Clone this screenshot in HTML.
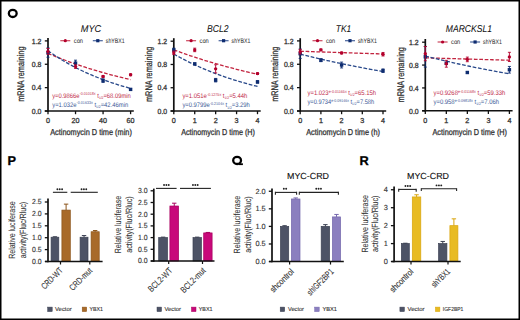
<!DOCTYPE html>
<html><head><meta charset="utf-8"><style>
html,body{margin:0;padding:0;background:#fff;}
body{width:520px;height:320px;overflow:hidden;position:relative;}
svg{position:absolute;left:0;top:0;}
text{font-family:"Liberation Sans", sans-serif;text-rendering:geometricPrecision;}
</style></head><body>
<svg width="520" height="320" viewBox="0 0 520 320">
<ellipse cx="12.75" cy="13.45" rx="3.9" ry="3.55" fill="none" stroke="#000" stroke-width="2.3"/>
<text x="91.00" y="32.00" font-size="9.9" fill="#111" text-anchor="middle" stroke="#111" stroke-width="0.06" font-style="italic" textLength="20.50" lengthAdjust="spacingAndGlyphs" >MYC</text>
<text x="23.90" y="74.20" font-size="9.6" fill="#333333" text-anchor="middle" stroke="#333333" stroke-width="0.28" textLength="55.30" lengthAdjust="spacingAndGlyphs" transform="rotate(-90 23.90 74.20)" >mRNA remaining</text>
<line x1="48.00" y1="37.90" x2="48.00" y2="111.80" stroke="#111" stroke-width="1.7" />
<line x1="44.80" y1="111.00" x2="133.80" y2="111.00" stroke="#111" stroke-width="1.6" />
<line x1="44.80" y1="111.00" x2="48.00" y2="111.00" stroke="#111" stroke-width="1.3" />
<text x="41.40" y="113.70" font-size="7.4" fill="#333333" text-anchor="end" stroke="#333333" stroke-width="0.28" textLength="9.60" lengthAdjust="spacingAndGlyphs" >0.0</text>
<line x1="44.80" y1="87.63" x2="48.00" y2="87.63" stroke="#111" stroke-width="1.3" />
<text x="41.40" y="90.33" font-size="7.4" fill="#333333" text-anchor="end" stroke="#333333" stroke-width="0.28" textLength="9.60" lengthAdjust="spacingAndGlyphs" >0.4</text>
<line x1="44.80" y1="64.27" x2="48.00" y2="64.27" stroke="#111" stroke-width="1.3" />
<text x="41.40" y="66.97" font-size="7.4" fill="#333333" text-anchor="end" stroke="#333333" stroke-width="0.28" textLength="9.60" lengthAdjust="spacingAndGlyphs" >0.8</text>
<line x1="44.80" y1="40.90" x2="48.00" y2="40.90" stroke="#111" stroke-width="1.3" />
<text x="41.40" y="43.60" font-size="7.4" fill="#333333" text-anchor="end" stroke="#333333" stroke-width="0.28" textLength="9.60" lengthAdjust="spacingAndGlyphs" >1.2</text>
<line x1="48.00" y1="111.00" x2="48.00" y2="114.20" stroke="#111" stroke-width="1.3" />
<text x="48.00" y="122.90" font-size="7.2" fill="#333333" text-anchor="middle" stroke="#333333" stroke-width="0.28" >0</text>
<line x1="75.53" y1="111.00" x2="75.53" y2="114.20" stroke="#111" stroke-width="1.3" />
<text x="75.53" y="122.90" font-size="7.2" fill="#333333" text-anchor="middle" stroke="#333333" stroke-width="0.28" >20</text>
<line x1="103.07" y1="111.00" x2="103.07" y2="114.20" stroke="#111" stroke-width="1.3" />
<text x="103.07" y="122.90" font-size="7.2" fill="#333333" text-anchor="middle" stroke="#333333" stroke-width="0.28" >40</text>
<line x1="130.60" y1="111.00" x2="130.60" y2="114.20" stroke="#111" stroke-width="1.3" />
<text x="130.60" y="122.90" font-size="7.2" fill="#333333" text-anchor="middle" stroke="#333333" stroke-width="0.28" >60</text>
<text x="91.00" y="135.40" font-size="8.6" fill="#333333" text-anchor="middle" stroke="#333333" stroke-width="0.28" textLength="81.70" lengthAdjust="spacingAndGlyphs" >Actinomycin D time (min)</text>
<polyline points="48.00,53.37 50.06,54.24 52.13,55.10 54.20,55.95 56.26,56.78 58.33,57.60 60.39,58.41 62.45,59.21 64.52,59.99 66.58,60.77 68.65,61.53 70.72,62.28 72.78,63.02 74.84,63.74 76.91,64.46 78.97,65.16 81.04,65.86 83.10,66.54 85.17,67.22 87.23,67.88 89.30,68.53 91.36,69.18 93.43,69.81 95.50,70.44 97.56,71.05 99.62,71.66 101.69,72.25 103.75,72.84 105.82,73.42 107.88,73.99 109.95,74.55 112.02,75.10 114.08,75.64 116.14,76.18 118.21,76.71 120.28,77.23 122.34,77.74 124.40,78.24 126.47,78.74 128.53,79.23 130.60,79.71" fill="none" stroke="#c2243f" stroke-width="1.3" stroke-dasharray="3.7 1.7"/>
<polyline points="48.00,50.71 50.06,52.17 52.13,53.60 54.20,54.99 56.26,56.34 58.33,57.66 60.39,58.95 62.45,60.21 64.52,61.44 66.58,62.64 68.65,63.81 70.72,64.95 72.78,66.07 74.84,67.15 76.91,68.22 78.97,69.25 81.04,70.26 83.10,71.25 85.17,72.21 87.23,73.15 89.30,74.06 91.36,74.96 93.43,75.83 95.50,76.68 97.56,77.51 99.62,78.32 101.69,79.11 103.75,79.88 105.82,80.64 107.88,81.37 109.95,82.09 112.02,82.79 114.08,83.47 116.14,84.14 118.21,84.79 120.28,85.42 122.34,86.04 124.40,86.64 126.47,87.23 128.53,87.81 130.60,88.37" fill="none" stroke="#28488a" stroke-width="1.3" stroke-dasharray="3.7 1.7"/>
<line x1="48.00" y1="47.91" x2="48.00" y2="57.26" stroke="#0e2c70" stroke-width="0.9" />
<line x1="46.50" y1="47.91" x2="49.50" y2="47.91" stroke="#0e2c70" stroke-width="0.9" />
<line x1="46.50" y1="57.26" x2="49.50" y2="57.26" stroke="#0e2c70" stroke-width="0.9" />
<rect x="46.30" y="50.88" width="3.40" height="3.40" fill="#0e2c70"/>
<line x1="75.53" y1="60.18" x2="75.53" y2="66.02" stroke="#0e2c70" stroke-width="0.9" />
<line x1="74.03" y1="60.18" x2="77.03" y2="60.18" stroke="#0e2c70" stroke-width="0.9" />
<line x1="74.03" y1="66.02" x2="77.03" y2="66.02" stroke="#0e2c70" stroke-width="0.9" />
<rect x="73.83" y="61.40" width="3.40" height="3.40" fill="#0e2c70"/>
<line x1="103.07" y1="78.87" x2="103.07" y2="82.38" stroke="#0e2c70" stroke-width="0.9" />
<line x1="101.57" y1="78.87" x2="104.57" y2="78.87" stroke="#0e2c70" stroke-width="0.9" />
<line x1="101.57" y1="82.38" x2="104.57" y2="82.38" stroke="#0e2c70" stroke-width="0.9" />
<rect x="101.37" y="78.92" width="3.40" height="3.40" fill="#0e2c70"/>
<line x1="130.60" y1="88.51" x2="130.60" y2="90.26" stroke="#0e2c70" stroke-width="0.9" />
<line x1="129.10" y1="88.51" x2="132.10" y2="88.51" stroke="#0e2c70" stroke-width="0.9" />
<line x1="129.10" y1="90.26" x2="132.10" y2="90.26" stroke="#0e2c70" stroke-width="0.9" />
<rect x="128.90" y="87.69" width="3.40" height="3.40" fill="#0e2c70"/>
<line x1="48.00" y1="48.49" x2="48.00" y2="54.34" stroke="#b3002c" stroke-width="0.9" />
<line x1="46.50" y1="48.49" x2="49.50" y2="48.49" stroke="#b3002c" stroke-width="0.9" />
<line x1="46.50" y1="54.34" x2="49.50" y2="54.34" stroke="#b3002c" stroke-width="0.9" />
<circle cx="48.00" cy="51.41" r="1.7" fill="#b3002c"/>
<line x1="75.53" y1="64.85" x2="75.53" y2="68.36" stroke="#b3002c" stroke-width="0.9" />
<line x1="74.03" y1="64.85" x2="77.03" y2="64.85" stroke="#b3002c" stroke-width="0.9" />
<line x1="74.03" y1="68.36" x2="77.03" y2="68.36" stroke="#b3002c" stroke-width="0.9" />
<circle cx="75.53" cy="66.60" r="1.7" fill="#b3002c"/>
<line x1="103.07" y1="75.66" x2="103.07" y2="77.41" stroke="#b3002c" stroke-width="0.9" />
<line x1="101.57" y1="75.66" x2="104.57" y2="75.66" stroke="#b3002c" stroke-width="0.9" />
<line x1="101.57" y1="77.41" x2="104.57" y2="77.41" stroke="#b3002c" stroke-width="0.9" />
<circle cx="103.07" cy="76.53" r="1.7" fill="#b3002c"/>
<line x1="130.60" y1="73.91" x2="130.60" y2="75.66" stroke="#b3002c" stroke-width="0.9" />
<line x1="129.10" y1="73.91" x2="132.10" y2="73.91" stroke="#b3002c" stroke-width="0.9" />
<line x1="129.10" y1="75.66" x2="132.10" y2="75.66" stroke="#b3002c" stroke-width="0.9" />
<circle cx="130.60" cy="74.78" r="1.7" fill="#b3002c"/>
<line x1="60.30" y1="40.70" x2="70.30" y2="40.70" stroke="#c2243f" stroke-width="1.2" stroke-opacity="0.85"/>
<circle cx="65.30" cy="40.70" r="1.6" fill="#b3002c"/>
<text x="73.80" y="42.90" font-size="6.6" fill="#333" text-anchor="start" stroke="#333" stroke-width="0.05" textLength="9.20" lengthAdjust="spacingAndGlyphs" >con</text>
<line x1="92.80" y1="40.70" x2="102.80" y2="40.70" stroke="#28488a" stroke-width="1.2" stroke-opacity="0.85"/>
<rect x="96.20" y="39.10" width="3.20" height="3.20" fill="#0e2c70"/>
<text x="105.80" y="42.90" font-size="6.6" fill="#333" text-anchor="start" stroke="#333" stroke-width="0.05" textLength="18.80" lengthAdjust="spacingAndGlyphs" >shYBX1</text>
<text x="52.20" y="97.60" font-size="6.6" fill="#c02848" text-anchor="start" textLength="78.60" lengthAdjust="spacingAndGlyphs" >y=0.9866e<tspan font-size="4.1" dy="-2.4">-0.01018x</tspan><tspan dy="2.4"> t</tspan><tspan font-size="3.7" dy="1.2">1/2</tspan><tspan dy="-1.2">=68.09min</tspan></text>
<text x="52.20" y="106.80" font-size="6.6" fill="#3a5896" text-anchor="start" textLength="76.10" lengthAdjust="spacingAndGlyphs" >y=1.032e<tspan font-size="4.1" dy="-2.4">-0.01633x</tspan><tspan dy="2.4"> t</tspan><tspan font-size="3.7" dy="1.2">1/2</tspan><tspan dy="-1.2">=42.46min</tspan></text>
<text x="217.80" y="32.00" font-size="9.9" fill="#111" text-anchor="middle" stroke="#111" stroke-width="0.06" font-style="italic" textLength="21.60" lengthAdjust="spacingAndGlyphs" >BCL2</text>
<text x="151.90" y="74.35" font-size="9.6" fill="#333333" text-anchor="middle" stroke="#333333" stroke-width="0.28" textLength="55.30" lengthAdjust="spacingAndGlyphs" transform="rotate(-90 151.90 74.35)" >mRNA remaining</text>
<line x1="173.80" y1="38.20" x2="173.80" y2="111.80" stroke="#111" stroke-width="1.7" />
<line x1="170.60" y1="111.00" x2="260.70" y2="111.00" stroke="#111" stroke-width="1.6" />
<line x1="170.60" y1="111.00" x2="173.80" y2="111.00" stroke="#111" stroke-width="1.3" />
<text x="167.20" y="113.70" font-size="7.4" fill="#333333" text-anchor="end" stroke="#333333" stroke-width="0.28" textLength="9.60" lengthAdjust="spacingAndGlyphs" >0.0</text>
<line x1="170.60" y1="87.73" x2="173.80" y2="87.73" stroke="#111" stroke-width="1.3" />
<text x="167.20" y="90.43" font-size="7.4" fill="#333333" text-anchor="end" stroke="#333333" stroke-width="0.28" textLength="9.60" lengthAdjust="spacingAndGlyphs" >0.4</text>
<line x1="170.60" y1="64.47" x2="173.80" y2="64.47" stroke="#111" stroke-width="1.3" />
<text x="167.20" y="67.17" font-size="7.4" fill="#333333" text-anchor="end" stroke="#333333" stroke-width="0.28" textLength="9.60" lengthAdjust="spacingAndGlyphs" >0.8</text>
<line x1="170.60" y1="41.20" x2="173.80" y2="41.20" stroke="#111" stroke-width="1.3" />
<text x="167.20" y="43.90" font-size="7.4" fill="#333333" text-anchor="end" stroke="#333333" stroke-width="0.28" textLength="9.60" lengthAdjust="spacingAndGlyphs" >1.2</text>
<line x1="173.80" y1="111.00" x2="173.80" y2="114.20" stroke="#111" stroke-width="1.3" />
<text x="173.80" y="122.90" font-size="7.2" fill="#333333" text-anchor="middle" stroke="#333333" stroke-width="0.28" >0</text>
<line x1="194.73" y1="111.00" x2="194.73" y2="114.20" stroke="#111" stroke-width="1.3" />
<text x="194.73" y="122.90" font-size="7.2" fill="#333333" text-anchor="middle" stroke="#333333" stroke-width="0.28" >1</text>
<line x1="215.65" y1="111.00" x2="215.65" y2="114.20" stroke="#111" stroke-width="1.3" />
<text x="215.65" y="122.90" font-size="7.2" fill="#333333" text-anchor="middle" stroke="#333333" stroke-width="0.28" >2</text>
<line x1="236.57" y1="111.00" x2="236.57" y2="114.20" stroke="#111" stroke-width="1.3" />
<text x="236.57" y="122.90" font-size="7.2" fill="#333333" text-anchor="middle" stroke="#333333" stroke-width="0.28" >3</text>
<line x1="257.50" y1="111.00" x2="257.50" y2="114.20" stroke="#111" stroke-width="1.3" />
<text x="257.50" y="122.90" font-size="7.2" fill="#333333" text-anchor="middle" stroke="#333333" stroke-width="0.28" >4</text>
<text x="218.10" y="135.40" font-size="8.6" fill="#333333" text-anchor="middle" stroke="#333333" stroke-width="0.28" textLength="73.80" lengthAdjust="spacingAndGlyphs" >Actinomycin D time (H)</text>
<polyline points="173.80,49.87 175.89,50.64 177.99,51.41 180.08,52.16 182.17,52.91 184.26,53.64 186.36,54.37 188.45,55.09 190.54,55.79 192.63,56.49 194.73,57.18 196.82,57.87 198.91,58.54 201.00,59.20 203.09,59.86 205.19,60.51 207.28,61.15 209.37,61.78 211.47,62.40 213.56,63.02 215.65,63.63 217.74,64.23 219.84,64.82 221.93,65.40 224.02,65.98 226.11,66.55 228.21,67.12 230.30,67.67 232.39,68.22 234.48,68.76 236.57,69.30 238.67,69.83 240.76,70.35 242.85,70.86 244.94,71.37 247.04,71.87 249.13,72.37 251.22,72.86 253.31,73.34 255.41,73.82 257.50,74.29" fill="none" stroke="#c2243f" stroke-width="1.3" stroke-dasharray="3.7 1.7"/>
<polyline points="173.80,54.00 175.89,55.19 177.99,56.35 180.08,57.49 182.17,58.60 184.26,59.69 186.36,60.76 188.45,61.81 190.54,62.83 192.63,63.84 194.73,64.82 196.82,65.78 198.91,66.72 201.00,67.64 203.09,68.54 205.19,69.43 207.28,70.29 209.37,71.14 211.47,71.97 213.56,72.78 215.65,73.58 217.74,74.36 219.84,75.12 221.93,75.87 224.02,76.60 226.11,77.32 228.21,78.02 230.30,78.70 232.39,79.38 234.48,80.04 236.57,80.68 238.67,81.31 240.76,81.93 242.85,82.53 244.94,83.13 247.04,83.71 249.13,84.28 251.22,84.83 253.31,85.38 255.41,85.91 257.50,86.43" fill="none" stroke="#28488a" stroke-width="1.3" stroke-dasharray="3.7 1.7"/>
<line x1="173.80" y1="48.18" x2="173.80" y2="51.67" stroke="#0e2c70" stroke-width="0.9" />
<line x1="172.30" y1="48.18" x2="175.30" y2="48.18" stroke="#0e2c70" stroke-width="0.9" />
<line x1="172.30" y1="51.67" x2="175.30" y2="51.67" stroke="#0e2c70" stroke-width="0.9" />
<rect x="172.10" y="48.22" width="3.40" height="3.40" fill="#0e2c70"/>
<line x1="194.73" y1="63.01" x2="194.73" y2="64.76" stroke="#0e2c70" stroke-width="0.9" />
<line x1="193.23" y1="63.01" x2="196.23" y2="63.01" stroke="#0e2c70" stroke-width="0.9" />
<line x1="193.23" y1="64.76" x2="196.23" y2="64.76" stroke="#0e2c70" stroke-width="0.9" />
<rect x="193.03" y="62.18" width="3.40" height="3.40" fill="#0e2c70"/>
<line x1="215.65" y1="78.43" x2="215.65" y2="81.92" stroke="#0e2c70" stroke-width="0.9" />
<line x1="214.15" y1="78.43" x2="217.15" y2="78.43" stroke="#0e2c70" stroke-width="0.9" />
<line x1="214.15" y1="81.92" x2="217.15" y2="81.92" stroke="#0e2c70" stroke-width="0.9" />
<rect x="213.95" y="78.47" width="3.40" height="3.40" fill="#0e2c70"/>
<line x1="257.50" y1="80.75" x2="257.50" y2="83.08" stroke="#0e2c70" stroke-width="0.9" />
<line x1="256.00" y1="80.75" x2="259.00" y2="80.75" stroke="#0e2c70" stroke-width="0.9" />
<line x1="256.00" y1="83.08" x2="259.00" y2="83.08" stroke="#0e2c70" stroke-width="0.9" />
<rect x="255.80" y="80.22" width="3.40" height="3.40" fill="#0e2c70"/>
<line x1="173.80" y1="51.09" x2="173.80" y2="54.58" stroke="#b3002c" stroke-width="0.9" />
<line x1="172.30" y1="51.09" x2="175.30" y2="51.09" stroke="#b3002c" stroke-width="0.9" />
<line x1="172.30" y1="54.58" x2="175.30" y2="54.58" stroke="#b3002c" stroke-width="0.9" />
<circle cx="173.80" cy="52.83" r="1.7" fill="#b3002c"/>
<line x1="194.73" y1="48.18" x2="194.73" y2="51.67" stroke="#b3002c" stroke-width="0.9" />
<line x1="193.23" y1="48.18" x2="196.23" y2="48.18" stroke="#b3002c" stroke-width="0.9" />
<line x1="193.23" y1="51.67" x2="196.23" y2="51.67" stroke="#b3002c" stroke-width="0.9" />
<circle cx="194.73" cy="49.92" r="1.7" fill="#b3002c"/>
<line x1="215.65" y1="64.76" x2="215.65" y2="72.90" stroke="#b3002c" stroke-width="0.9" />
<line x1="214.15" y1="64.76" x2="217.15" y2="64.76" stroke="#b3002c" stroke-width="0.9" />
<line x1="214.15" y1="72.90" x2="217.15" y2="72.90" stroke="#b3002c" stroke-width="0.9" />
<circle cx="215.65" cy="68.83" r="1.7" fill="#b3002c"/>
<line x1="257.50" y1="72.73" x2="257.50" y2="74.47" stroke="#b3002c" stroke-width="0.9" />
<line x1="256.00" y1="72.73" x2="259.00" y2="72.73" stroke="#b3002c" stroke-width="0.9" />
<line x1="256.00" y1="74.47" x2="259.00" y2="74.47" stroke="#b3002c" stroke-width="0.9" />
<circle cx="257.50" cy="73.60" r="1.7" fill="#b3002c"/>
<line x1="186.10" y1="40.70" x2="196.10" y2="40.70" stroke="#c2243f" stroke-width="1.2" stroke-opacity="0.85"/>
<circle cx="191.10" cy="40.70" r="1.6" fill="#b3002c"/>
<text x="199.60" y="42.90" font-size="6.6" fill="#333" text-anchor="start" stroke="#333" stroke-width="0.05" textLength="9.20" lengthAdjust="spacingAndGlyphs" >con</text>
<line x1="218.60" y1="40.70" x2="228.60" y2="40.70" stroke="#28488a" stroke-width="1.2" stroke-opacity="0.85"/>
<rect x="222.00" y="39.10" width="3.20" height="3.20" fill="#0e2c70"/>
<text x="231.60" y="42.90" font-size="6.6" fill="#333" text-anchor="start" stroke="#333" stroke-width="0.05" textLength="18.80" lengthAdjust="spacingAndGlyphs" >shYBX1</text>
<text x="182.40" y="97.90" font-size="6.6" fill="#c02848" text-anchor="start" textLength="65.00" lengthAdjust="spacingAndGlyphs" >y=1.051e<tspan font-size="4.1" dy="-2.4">-0.1275x</tspan><tspan dy="2.4"> t</tspan><tspan font-size="3.7" dy="1.2">1/2</tspan><tspan dy="-1.2">=5.44h</tspan></text>
<text x="182.40" y="107.30" font-size="6.6" fill="#3a5896" text-anchor="start" textLength="67.40" lengthAdjust="spacingAndGlyphs" >y=0.9799e<tspan font-size="4.1" dy="-2.4">-0.2104x</tspan><tspan dy="2.4"> t</tspan><tspan font-size="3.7" dy="1.2">1/2</tspan><tspan dy="-1.2">=3.29h</tspan></text>
<text x="343.50" y="32.00" font-size="9.9" fill="#111" text-anchor="middle" stroke="#111" stroke-width="0.06" font-style="italic" textLength="15.40" lengthAdjust="spacingAndGlyphs" >TK1</text>
<text x="278.50" y="74.20" font-size="9.6" fill="#333333" text-anchor="middle" stroke="#333333" stroke-width="0.28" textLength="55.30" lengthAdjust="spacingAndGlyphs" transform="rotate(-90 278.50 74.20)" >mRNA remaining</text>
<line x1="300.20" y1="38.20" x2="300.20" y2="111.80" stroke="#111" stroke-width="1.7" />
<line x1="297.00" y1="111.00" x2="386.20" y2="111.00" stroke="#111" stroke-width="1.6" />
<line x1="297.00" y1="111.00" x2="300.20" y2="111.00" stroke="#111" stroke-width="1.3" />
<text x="293.60" y="113.70" font-size="7.4" fill="#333333" text-anchor="end" stroke="#333333" stroke-width="0.28" textLength="9.60" lengthAdjust="spacingAndGlyphs" >0.0</text>
<line x1="297.00" y1="87.63" x2="300.20" y2="87.63" stroke="#111" stroke-width="1.3" />
<text x="293.60" y="90.33" font-size="7.4" fill="#333333" text-anchor="end" stroke="#333333" stroke-width="0.28" textLength="9.60" lengthAdjust="spacingAndGlyphs" >0.4</text>
<line x1="297.00" y1="64.27" x2="300.20" y2="64.27" stroke="#111" stroke-width="1.3" />
<text x="293.60" y="66.97" font-size="7.4" fill="#333333" text-anchor="end" stroke="#333333" stroke-width="0.28" textLength="9.60" lengthAdjust="spacingAndGlyphs" >0.8</text>
<line x1="297.00" y1="40.90" x2="300.20" y2="40.90" stroke="#111" stroke-width="1.3" />
<text x="293.60" y="43.60" font-size="7.4" fill="#333333" text-anchor="end" stroke="#333333" stroke-width="0.28" textLength="9.60" lengthAdjust="spacingAndGlyphs" >1.2</text>
<line x1="300.20" y1="111.00" x2="300.20" y2="114.20" stroke="#111" stroke-width="1.3" />
<text x="300.20" y="122.90" font-size="7.2" fill="#333333" text-anchor="middle" stroke="#333333" stroke-width="0.28" >0</text>
<line x1="320.90" y1="111.00" x2="320.90" y2="114.20" stroke="#111" stroke-width="1.3" />
<text x="320.90" y="122.90" font-size="7.2" fill="#333333" text-anchor="middle" stroke="#333333" stroke-width="0.28" >1</text>
<line x1="341.60" y1="111.00" x2="341.60" y2="114.20" stroke="#111" stroke-width="1.3" />
<text x="341.60" y="122.90" font-size="7.2" fill="#333333" text-anchor="middle" stroke="#333333" stroke-width="0.28" >2</text>
<line x1="362.30" y1="111.00" x2="362.30" y2="114.20" stroke="#111" stroke-width="1.3" />
<text x="362.30" y="122.90" font-size="7.2" fill="#333333" text-anchor="middle" stroke="#333333" stroke-width="0.28" >3</text>
<line x1="383.00" y1="111.00" x2="383.00" y2="114.20" stroke="#111" stroke-width="1.3" />
<text x="383.00" y="122.90" font-size="7.2" fill="#333333" text-anchor="middle" stroke="#333333" stroke-width="0.28" >4</text>
<text x="343.10" y="135.40" font-size="8.6" fill="#333333" text-anchor="middle" stroke="#333333" stroke-width="0.28" textLength="73.80" lengthAdjust="spacingAndGlyphs" >Actinomycin D time (h)</text>
<polyline points="300.20,51.24 302.27,51.31 304.34,51.38 306.41,51.45 308.48,51.52 310.55,51.59 312.62,51.66 314.69,51.73 316.76,51.79 318.83,51.86 320.90,51.93 322.97,52.00 325.04,52.07 327.11,52.14 329.18,52.21 331.25,52.27 333.32,52.34 335.39,52.41 337.46,52.48 339.53,52.55 341.60,52.62 343.67,52.68 345.74,52.75 347.81,52.82 349.88,52.89 351.95,52.96 354.02,53.02 356.09,53.09 358.16,53.16 360.23,53.23 362.30,53.29 364.37,53.36 366.44,53.43 368.51,53.49 370.58,53.56 372.65,53.63 374.72,53.69 376.79,53.76 378.86,53.83 380.93,53.89 383.00,53.96" fill="none" stroke="#c2243f" stroke-width="1.3" stroke-dasharray="3.7 1.7"/>
<polyline points="300.20,54.14 302.27,54.65 304.34,55.17 306.41,55.68 308.48,56.18 310.55,56.68 312.62,57.17 314.69,57.66 316.76,58.15 318.83,58.63 320.90,59.11 322.97,59.58 325.04,60.05 327.11,60.51 329.18,60.97 331.25,61.43 333.32,61.88 335.39,62.33 337.46,62.77 339.53,63.21 341.60,63.64 343.67,64.07 345.74,64.50 347.81,64.92 349.88,65.34 351.95,65.76 354.02,66.17 356.09,66.58 358.16,66.98 360.23,67.38 362.30,67.78 364.37,68.18 366.44,68.57 368.51,68.95 370.58,69.33 372.65,69.71 374.72,70.09 376.79,70.46 378.86,70.83 380.93,71.20 383.00,71.56" fill="none" stroke="#28488a" stroke-width="1.3" stroke-dasharray="3.7 1.7"/>
<line x1="300.20" y1="49.08" x2="300.20" y2="58.43" stroke="#0e2c70" stroke-width="0.9" />
<line x1="298.70" y1="49.08" x2="301.70" y2="49.08" stroke="#0e2c70" stroke-width="0.9" />
<line x1="298.70" y1="58.43" x2="301.70" y2="58.43" stroke="#0e2c70" stroke-width="0.9" />
<rect x="298.50" y="52.05" width="3.40" height="3.40" fill="#0e2c70"/>
<line x1="320.90" y1="58.72" x2="320.90" y2="61.64" stroke="#0e2c70" stroke-width="0.9" />
<line x1="319.40" y1="58.72" x2="322.40" y2="58.72" stroke="#0e2c70" stroke-width="0.9" />
<line x1="319.40" y1="61.64" x2="322.40" y2="61.64" stroke="#0e2c70" stroke-width="0.9" />
<rect x="319.20" y="58.48" width="3.40" height="3.40" fill="#0e2c70"/>
<line x1="341.60" y1="62.11" x2="341.60" y2="67.95" stroke="#0e2c70" stroke-width="0.9" />
<line x1="340.10" y1="62.11" x2="343.10" y2="62.11" stroke="#0e2c70" stroke-width="0.9" />
<line x1="340.10" y1="67.95" x2="343.10" y2="67.95" stroke="#0e2c70" stroke-width="0.9" />
<rect x="339.90" y="63.33" width="3.40" height="3.40" fill="#0e2c70"/>
<line x1="383.00" y1="68.94" x2="383.00" y2="72.45" stroke="#0e2c70" stroke-width="0.9" />
<line x1="381.50" y1="68.94" x2="384.50" y2="68.94" stroke="#0e2c70" stroke-width="0.9" />
<line x1="381.50" y1="72.45" x2="384.50" y2="72.45" stroke="#0e2c70" stroke-width="0.9" />
<rect x="381.30" y="68.99" width="3.40" height="3.40" fill="#0e2c70"/>
<line x1="300.20" y1="49.37" x2="300.20" y2="54.04" stroke="#b3002c" stroke-width="0.9" />
<line x1="298.70" y1="49.37" x2="301.70" y2="49.37" stroke="#b3002c" stroke-width="0.9" />
<line x1="298.70" y1="54.04" x2="301.70" y2="54.04" stroke="#b3002c" stroke-width="0.9" />
<circle cx="300.20" cy="51.71" r="1.7" fill="#b3002c"/>
<line x1="320.90" y1="48.96" x2="320.90" y2="50.71" stroke="#b3002c" stroke-width="0.9" />
<line x1="319.40" y1="48.96" x2="322.40" y2="48.96" stroke="#b3002c" stroke-width="0.9" />
<line x1="319.40" y1="50.71" x2="322.40" y2="50.71" stroke="#b3002c" stroke-width="0.9" />
<circle cx="320.90" cy="49.84" r="1.7" fill="#b3002c"/>
<line x1="341.60" y1="52.06" x2="341.60" y2="53.81" stroke="#b3002c" stroke-width="0.9" />
<line x1="340.10" y1="52.06" x2="343.10" y2="52.06" stroke="#b3002c" stroke-width="0.9" />
<line x1="340.10" y1="53.81" x2="343.10" y2="53.81" stroke="#b3002c" stroke-width="0.9" />
<circle cx="341.60" cy="52.93" r="1.7" fill="#b3002c"/>
<line x1="383.00" y1="52.47" x2="383.00" y2="55.97" stroke="#b3002c" stroke-width="0.9" />
<line x1="381.50" y1="52.47" x2="384.50" y2="52.47" stroke="#b3002c" stroke-width="0.9" />
<line x1="381.50" y1="55.97" x2="384.50" y2="55.97" stroke="#b3002c" stroke-width="0.9" />
<circle cx="383.00" cy="54.22" r="1.7" fill="#b3002c"/>
<line x1="312.50" y1="40.70" x2="322.50" y2="40.70" stroke="#c2243f" stroke-width="1.2" stroke-opacity="0.85"/>
<circle cx="317.50" cy="40.70" r="1.6" fill="#b3002c"/>
<text x="326.00" y="42.90" font-size="6.6" fill="#333" text-anchor="start" stroke="#333" stroke-width="0.05" textLength="9.20" lengthAdjust="spacingAndGlyphs" >con</text>
<line x1="345.00" y1="40.70" x2="355.00" y2="40.70" stroke="#28488a" stroke-width="1.2" stroke-opacity="0.85"/>
<rect x="348.40" y="39.10" width="3.20" height="3.20" fill="#0e2c70"/>
<text x="358.00" y="42.90" font-size="6.6" fill="#333" text-anchor="start" stroke="#333" stroke-width="0.05" textLength="18.80" lengthAdjust="spacingAndGlyphs" >shYBX1</text>
<text x="307.50" y="95.20" font-size="6.6" fill="#c02848" text-anchor="start" textLength="68.60" lengthAdjust="spacingAndGlyphs" >y=1.023<tspan font-size="4.1" dy="-2.4">e-0.01165x</tspan><tspan dy="2.4"> t</tspan><tspan font-size="3.7" dy="1.2">1/2</tspan><tspan dy="-1.2">=65.15h</tspan></text>
<text x="307.50" y="103.90" font-size="6.6" fill="#3a5896" text-anchor="start" textLength="66.70" lengthAdjust="spacingAndGlyphs" >y=0.9734<tspan font-size="4.1" dy="-2.4">e-0.09146x</tspan><tspan dy="2.4"> t</tspan><tspan font-size="3.7" dy="1.2">1/2</tspan><tspan dy="-1.2">=7.58h</tspan></text>
<text x="468.90" y="32.00" font-size="9.9" fill="#111" text-anchor="middle" stroke="#111" stroke-width="0.06" font-style="italic" textLength="46.10" lengthAdjust="spacingAndGlyphs" >MARCKSL1</text>
<text x="403.90" y="74.75" font-size="9.6" fill="#333333" text-anchor="middle" stroke="#333333" stroke-width="0.28" textLength="55.30" lengthAdjust="spacingAndGlyphs" transform="rotate(-90 403.90 74.75)" >mRNA remaining</text>
<line x1="425.30" y1="39.00" x2="425.30" y2="111.60" stroke="#111" stroke-width="1.7" />
<line x1="422.10" y1="110.80" x2="512.60" y2="110.80" stroke="#111" stroke-width="1.6" />
<line x1="422.10" y1="110.80" x2="425.30" y2="110.80" stroke="#111" stroke-width="1.3" />
<text x="418.70" y="113.50" font-size="7.4" fill="#333333" text-anchor="end" stroke="#333333" stroke-width="0.28" textLength="9.60" lengthAdjust="spacingAndGlyphs" >0.0</text>
<line x1="422.10" y1="87.93" x2="425.30" y2="87.93" stroke="#111" stroke-width="1.3" />
<text x="418.70" y="90.63" font-size="7.4" fill="#333333" text-anchor="end" stroke="#333333" stroke-width="0.28" textLength="9.60" lengthAdjust="spacingAndGlyphs" >0.4</text>
<line x1="422.10" y1="65.07" x2="425.30" y2="65.07" stroke="#111" stroke-width="1.3" />
<text x="418.70" y="67.77" font-size="7.4" fill="#333333" text-anchor="end" stroke="#333333" stroke-width="0.28" textLength="9.60" lengthAdjust="spacingAndGlyphs" >0.8</text>
<line x1="422.10" y1="42.20" x2="425.30" y2="42.20" stroke="#111" stroke-width="1.3" />
<text x="418.70" y="44.90" font-size="7.4" fill="#333333" text-anchor="end" stroke="#333333" stroke-width="0.28" textLength="9.60" lengthAdjust="spacingAndGlyphs" >1.2</text>
<line x1="425.30" y1="110.80" x2="425.30" y2="114.00" stroke="#111" stroke-width="1.3" />
<text x="425.30" y="122.90" font-size="7.2" fill="#333333" text-anchor="middle" stroke="#333333" stroke-width="0.28" >0</text>
<line x1="446.32" y1="110.80" x2="446.32" y2="114.00" stroke="#111" stroke-width="1.3" />
<text x="446.32" y="122.90" font-size="7.2" fill="#333333" text-anchor="middle" stroke="#333333" stroke-width="0.28" >1</text>
<line x1="467.35" y1="110.80" x2="467.35" y2="114.00" stroke="#111" stroke-width="1.3" />
<text x="467.35" y="122.90" font-size="7.2" fill="#333333" text-anchor="middle" stroke="#333333" stroke-width="0.28" >2</text>
<line x1="488.38" y1="110.80" x2="488.38" y2="114.00" stroke="#111" stroke-width="1.3" />
<text x="488.38" y="122.90" font-size="7.2" fill="#333333" text-anchor="middle" stroke="#333333" stroke-width="0.28" >3</text>
<line x1="509.40" y1="110.80" x2="509.40" y2="114.00" stroke="#111" stroke-width="1.3" />
<text x="509.40" y="122.90" font-size="7.2" fill="#333333" text-anchor="middle" stroke="#333333" stroke-width="0.28" >4</text>
<text x="469.75" y="135.40" font-size="8.6" fill="#333333" text-anchor="middle" stroke="#333333" stroke-width="0.28" textLength="74.50" lengthAdjust="spacingAndGlyphs" >Actinomycin D time (H)</text>
<polyline points="425.30,57.82 427.40,57.88 429.50,57.94 431.61,58.00 433.71,58.06 435.81,58.13 437.92,58.19 440.02,58.25 442.12,58.31 444.22,58.37 446.32,58.43 448.43,58.49 450.53,58.56 452.63,58.62 454.74,58.68 456.84,58.74 458.94,58.80 461.04,58.86 463.14,58.92 465.25,58.98 467.35,59.04 469.45,59.10 471.56,59.16 473.66,59.22 475.76,59.28 477.86,59.34 479.96,59.40 482.07,59.46 484.17,59.52 486.27,59.58 488.38,59.64 490.48,59.70 492.58,59.76 494.68,59.82 496.78,59.88 498.89,59.94 500.99,60.00 503.09,60.06 505.19,60.12 507.30,60.18 509.40,60.24" fill="none" stroke="#c2243f" stroke-width="1.3" stroke-dasharray="3.7 1.7"/>
<polyline points="425.30,56.03 427.40,56.57 429.50,57.10 431.61,57.62 433.71,58.14 435.81,58.66 437.92,59.17 440.02,59.67 442.12,60.17 444.22,60.67 446.32,61.16 448.43,61.64 450.53,62.12 452.63,62.60 454.74,63.07 456.84,63.53 458.94,64.00 461.04,64.45 463.14,64.91 465.25,65.35 467.35,65.80 469.45,66.24 471.56,66.67 473.66,67.10 475.76,67.53 477.86,67.95 479.96,68.37 482.07,68.79 484.17,69.20 486.27,69.60 488.38,70.01 490.48,70.41 492.58,70.80 494.68,71.19 496.78,71.58 498.89,71.96 500.99,72.34 503.09,72.72 505.19,73.09 507.30,73.46 509.40,73.82" fill="none" stroke="#28488a" stroke-width="1.3" stroke-dasharray="3.7 1.7"/>
<line x1="425.30" y1="46.49" x2="425.30" y2="67.07" stroke="#0e2c70" stroke-width="0.9" />
<line x1="423.80" y1="46.49" x2="426.80" y2="46.49" stroke="#0e2c70" stroke-width="0.9" />
<line x1="423.80" y1="67.07" x2="426.80" y2="67.07" stroke="#0e2c70" stroke-width="0.9" />
<rect x="423.60" y="55.08" width="3.40" height="3.40" fill="#0e2c70"/>
<line x1="446.32" y1="62.21" x2="446.32" y2="64.50" stroke="#0e2c70" stroke-width="0.9" />
<line x1="444.82" y1="62.21" x2="447.82" y2="62.21" stroke="#0e2c70" stroke-width="0.9" />
<line x1="444.82" y1="64.50" x2="447.82" y2="64.50" stroke="#0e2c70" stroke-width="0.9" />
<rect x="444.62" y="61.65" width="3.40" height="3.40" fill="#0e2c70"/>
<line x1="467.35" y1="71.64" x2="467.35" y2="73.36" stroke="#0e2c70" stroke-width="0.9" />
<line x1="465.85" y1="71.64" x2="468.85" y2="71.64" stroke="#0e2c70" stroke-width="0.9" />
<line x1="465.85" y1="73.36" x2="468.85" y2="73.36" stroke="#0e2c70" stroke-width="0.9" />
<rect x="465.65" y="70.80" width="3.40" height="3.40" fill="#0e2c70"/>
<line x1="509.40" y1="66.44" x2="509.40" y2="73.07" stroke="#0e2c70" stroke-width="0.9" />
<line x1="507.90" y1="66.44" x2="510.90" y2="66.44" stroke="#0e2c70" stroke-width="0.9" />
<line x1="507.90" y1="73.07" x2="510.90" y2="73.07" stroke="#0e2c70" stroke-width="0.9" />
<rect x="507.70" y="68.05" width="3.40" height="3.40" fill="#0e2c70"/>
<line x1="425.30" y1="46.49" x2="425.30" y2="60.78" stroke="#b3002c" stroke-width="0.9" />
<line x1="423.80" y1="46.49" x2="426.80" y2="46.49" stroke="#b3002c" stroke-width="0.9" />
<line x1="423.80" y1="60.78" x2="426.80" y2="60.78" stroke="#b3002c" stroke-width="0.9" />
<circle cx="425.30" cy="53.63" r="1.7" fill="#b3002c"/>
<line x1="446.32" y1="60.32" x2="446.32" y2="67.18" stroke="#b3002c" stroke-width="0.9" />
<line x1="444.82" y1="60.32" x2="447.82" y2="60.32" stroke="#b3002c" stroke-width="0.9" />
<line x1="444.82" y1="67.18" x2="447.82" y2="67.18" stroke="#b3002c" stroke-width="0.9" />
<circle cx="446.32" cy="63.75" r="1.7" fill="#b3002c"/>
<line x1="467.35" y1="57.12" x2="467.35" y2="61.69" stroke="#b3002c" stroke-width="0.9" />
<line x1="465.85" y1="57.12" x2="468.85" y2="57.12" stroke="#b3002c" stroke-width="0.9" />
<line x1="465.85" y1="61.69" x2="468.85" y2="61.69" stroke="#b3002c" stroke-width="0.9" />
<circle cx="467.35" cy="59.41" r="1.7" fill="#b3002c"/>
<line x1="509.40" y1="52.32" x2="509.40" y2="61.47" stroke="#b3002c" stroke-width="0.9" />
<line x1="507.90" y1="52.32" x2="510.90" y2="52.32" stroke="#b3002c" stroke-width="0.9" />
<line x1="507.90" y1="61.47" x2="510.90" y2="61.47" stroke="#b3002c" stroke-width="0.9" />
<circle cx="509.40" cy="56.89" r="1.7" fill="#b3002c"/>
<line x1="437.60" y1="42.00" x2="447.60" y2="42.00" stroke="#c2243f" stroke-width="1.2" stroke-opacity="0.85"/>
<circle cx="442.60" cy="42.00" r="1.6" fill="#b3002c"/>
<text x="451.10" y="44.20" font-size="6.6" fill="#333" text-anchor="start" stroke="#333" stroke-width="0.05" textLength="9.20" lengthAdjust="spacingAndGlyphs" >con</text>
<line x1="470.10" y1="42.00" x2="480.10" y2="42.00" stroke="#28488a" stroke-width="1.2" stroke-opacity="0.85"/>
<rect x="473.50" y="40.40" width="3.20" height="3.20" fill="#0e2c70"/>
<text x="483.10" y="44.20" font-size="6.6" fill="#333" text-anchor="start" stroke="#333" stroke-width="0.05" textLength="18.80" lengthAdjust="spacingAndGlyphs" >shYBX1</text>
<text x="433.50" y="95.20" font-size="6.6" fill="#c02848" text-anchor="start" textLength="71.80" lengthAdjust="spacingAndGlyphs" >y=0.9268<tspan font-size="4.1" dy="-2.4">e-0.01168x</tspan><tspan dy="2.4"> t</tspan><tspan font-size="3.7" dy="1.2">1/2</tspan><tspan dy="-1.2">=59.33h</tspan></text>
<text x="433.50" y="103.90" font-size="6.6" fill="#3a5896" text-anchor="start" textLength="65.50" lengthAdjust="spacingAndGlyphs" >y=0.958<tspan font-size="4.1" dy="-2.4">e-0.09818x</tspan><tspan dy="2.4"> t</tspan><tspan font-size="3.7" dy="1.2">1/2</tspan><tspan dy="-1.2">=7.06h</tspan></text>
<text x="7.60" y="165.20" font-size="12.8" fill="#000" text-anchor="start" stroke="#000" stroke-width="0.28" font-weight="bold" >P</text>
<ellipse cx="237.1" cy="160.45" rx="3.9" ry="3.55" fill="none" stroke="#000" stroke-width="2.3"/>
<line x1="238.60" y1="164.20" x2="242.90" y2="164.20" stroke="#000" stroke-width="1.8" />
<text x="359.50" y="165.20" font-size="12.8" fill="#000" text-anchor="start" stroke="#000" stroke-width="0.28" font-weight="bold" >R</text>
<text x="15.20" y="230.10" font-size="9.0" fill="#333333" text-anchor="middle" stroke="#333333" stroke-width="0.08" textLength="57.50" lengthAdjust="spacingAndGlyphs" transform="rotate(-90 15.20 230.10)" >Relative luciferase</text>
<text x="26.40" y="230.00" font-size="9.0" fill="#333333" text-anchor="middle" stroke="#333333" stroke-width="0.08" textLength="56.50" lengthAdjust="spacingAndGlyphs" transform="rotate(-90 26.40 230.00)" >activity(Fluc/Rluc)</text>
<rect x="51.10" y="237.22" width="7.70" height="24.28" fill="#4d5366" stroke="#3b4052" stroke-width="0.7"/>
<line x1="54.95" y1="237.22" x2="54.95" y2="236.75" stroke="#3b4052" stroke-width="1.0" />
<line x1="52.75" y1="236.75" x2="57.15" y2="236.75" stroke="#3b4052" stroke-width="1.0" />
<rect x="61.90" y="210.09" width="8.40" height="51.41" fill="#a86a2a" stroke="#8b5319" stroke-width="0.7"/>
<line x1="66.10" y1="210.09" x2="66.10" y2="204.14" stroke="#8b5319" stroke-width="1.0" />
<line x1="63.90" y1="204.14" x2="68.30" y2="204.14" stroke="#8b5319" stroke-width="1.0" />
<rect x="80.10" y="237.22" width="7.90" height="24.28" fill="#4d5366" stroke="#3b4052" stroke-width="0.7"/>
<line x1="84.05" y1="237.22" x2="84.05" y2="235.56" stroke="#3b4052" stroke-width="1.0" />
<line x1="81.85" y1="235.56" x2="86.25" y2="235.56" stroke="#3b4052" stroke-width="1.0" />
<rect x="91.10" y="231.75" width="8.10" height="29.75" fill="#a86a2a" stroke="#8b5319" stroke-width="0.7"/>
<line x1="95.15" y1="231.75" x2="95.15" y2="230.56" stroke="#8b5319" stroke-width="1.0" />
<line x1="92.95" y1="230.56" x2="97.35" y2="230.56" stroke="#8b5319" stroke-width="1.0" />
<line x1="48.00" y1="198.50" x2="48.00" y2="262.30" stroke="#111" stroke-width="1.7" />
<line x1="45.00" y1="261.50" x2="102.60" y2="261.50" stroke="#111" stroke-width="1.6" />
<line x1="44.80" y1="261.50" x2="48.00" y2="261.50" stroke="#111" stroke-width="1.3" />
<text x="41.70" y="263.80" font-size="7.4" fill="#333333" text-anchor="end" stroke="#333333" stroke-width="0.12" textLength="9.60" lengthAdjust="spacingAndGlyphs" >0.0</text>
<line x1="44.80" y1="249.60" x2="48.00" y2="249.60" stroke="#111" stroke-width="1.3" />
<text x="41.70" y="251.90" font-size="7.4" fill="#333333" text-anchor="end" stroke="#333333" stroke-width="0.12" textLength="9.60" lengthAdjust="spacingAndGlyphs" >0.5</text>
<line x1="44.80" y1="237.70" x2="48.00" y2="237.70" stroke="#111" stroke-width="1.3" />
<text x="41.70" y="240.00" font-size="7.4" fill="#333333" text-anchor="end" stroke="#333333" stroke-width="0.12" textLength="9.60" lengthAdjust="spacingAndGlyphs" >1.0</text>
<line x1="44.80" y1="225.80" x2="48.00" y2="225.80" stroke="#111" stroke-width="1.3" />
<text x="41.70" y="228.10" font-size="7.4" fill="#333333" text-anchor="end" stroke="#333333" stroke-width="0.12" textLength="9.60" lengthAdjust="spacingAndGlyphs" >1.5</text>
<line x1="44.80" y1="213.90" x2="48.00" y2="213.90" stroke="#111" stroke-width="1.3" />
<text x="41.70" y="216.20" font-size="7.4" fill="#333333" text-anchor="end" stroke="#333333" stroke-width="0.12" textLength="9.60" lengthAdjust="spacingAndGlyphs" >2.0</text>
<line x1="44.80" y1="202.00" x2="48.00" y2="202.00" stroke="#111" stroke-width="1.3" />
<text x="41.70" y="204.30" font-size="7.4" fill="#333333" text-anchor="end" stroke="#333333" stroke-width="0.12" textLength="9.60" lengthAdjust="spacingAndGlyphs" >2.5</text>
<line x1="60.50" y1="261.50" x2="60.50" y2="264.50" stroke="#111" stroke-width="1.2" />
<text x="63.40" y="271.00" font-size="8.8" fill="#333333" text-anchor="end" stroke="#333333" stroke-width="0.1" textLength="26.50" lengthAdjust="spacingAndGlyphs" transform="rotate(-45 63.40 271.00)" >CRD-WT</text>
<line x1="89.80" y1="261.50" x2="89.80" y2="264.50" stroke="#111" stroke-width="1.2" />
<text x="92.90" y="271.20" font-size="8.8" fill="#333333" text-anchor="end" stroke="#333333" stroke-width="0.1" textLength="28.50" lengthAdjust="spacingAndGlyphs" transform="rotate(-45 92.90 271.20)" >CRD-mut</text>
<line x1="52.90" y1="192.30" x2="67.30" y2="192.30" stroke="#222" stroke-width="1.1" />
<circle cx="57.40" cy="189.30" r="0.95" fill="#222"/>
<circle cx="59.75" cy="189.30" r="0.95" fill="#222"/>
<circle cx="62.10" cy="189.30" r="0.95" fill="#222"/>
<line x1="70.70" y1="192.30" x2="97.80" y2="192.30" stroke="#222" stroke-width="1.1" />
<circle cx="81.55" cy="189.30" r="0.95" fill="#222"/>
<circle cx="83.90" cy="189.30" r="0.95" fill="#222"/>
<circle cx="86.25" cy="189.30" r="0.95" fill="#222"/>
<rect x="47.70" y="307.10" width="4.50" height="4.50" fill="#4d5366" stroke="#3b4052" stroke-width="0.5"/>
<text x="55.00" y="311.20" font-size="5.8" fill="#333" text-anchor="start" stroke="#333" stroke-width="0.12" textLength="16.70" lengthAdjust="spacingAndGlyphs" >Vector</text>
<rect x="82.20" y="307.10" width="4.50" height="4.50" fill="#a86a2a" stroke="#8b5319" stroke-width="0.5"/>
<text x="89.50" y="311.20" font-size="5.8" fill="#333" text-anchor="start" stroke="#333" stroke-width="0.12" textLength="13.50" lengthAdjust="spacingAndGlyphs" >YBX1</text>
<text x="120.80" y="224.60" font-size="9.0" fill="#333333" text-anchor="middle" stroke="#333333" stroke-width="0.08" textLength="57.50" lengthAdjust="spacingAndGlyphs" transform="rotate(-90 120.80 224.60)" >Relative luciferase</text>
<text x="132.30" y="224.50" font-size="9.0" fill="#333333" text-anchor="middle" stroke="#333333" stroke-width="0.08" textLength="56.50" lengthAdjust="spacingAndGlyphs" transform="rotate(-90 132.30 224.50)" >activity(Fluc/Rluc)</text>
<rect x="158.70" y="237.60" width="8.80" height="23.40" fill="#4d5366" stroke="#3b4052" stroke-width="0.7"/>
<line x1="163.10" y1="237.60" x2="163.10" y2="237.13" stroke="#3b4052" stroke-width="1.0" />
<line x1="160.90" y1="237.13" x2="165.30" y2="237.13" stroke="#3b4052" stroke-width="1.0" />
<rect x="169.90" y="206.01" width="8.70" height="54.99" fill="#c8097a" stroke="#a8005f" stroke-width="0.7"/>
<line x1="174.25" y1="206.01" x2="174.25" y2="203.20" stroke="#a8005f" stroke-width="1.0" />
<line x1="172.05" y1="203.20" x2="176.45" y2="203.20" stroke="#a8005f" stroke-width="1.0" />
<rect x="193.00" y="237.60" width="8.40" height="23.40" fill="#4d5366" stroke="#3b4052" stroke-width="0.7"/>
<line x1="197.20" y1="237.60" x2="197.20" y2="237.13" stroke="#3b4052" stroke-width="1.0" />
<line x1="195.00" y1="237.13" x2="199.40" y2="237.13" stroke="#3b4052" stroke-width="1.0" />
<rect x="203.70" y="232.92" width="8.40" height="28.08" fill="#c8097a" stroke="#a8005f" stroke-width="0.7"/>
<line x1="207.90" y1="232.92" x2="207.90" y2="232.45" stroke="#a8005f" stroke-width="1.0" />
<line x1="205.70" y1="232.45" x2="210.10" y2="232.45" stroke="#a8005f" stroke-width="1.0" />
<line x1="153.80" y1="188.60" x2="153.80" y2="261.80" stroke="#111" stroke-width="1.7" />
<line x1="150.80" y1="261.00" x2="214.50" y2="261.00" stroke="#111" stroke-width="1.6" />
<line x1="150.60" y1="261.00" x2="153.80" y2="261.00" stroke="#111" stroke-width="1.3" />
<text x="147.50" y="263.30" font-size="7.4" fill="#333333" text-anchor="end" stroke="#333333" stroke-width="0.12" textLength="9.60" lengthAdjust="spacingAndGlyphs" >0.0</text>
<line x1="150.60" y1="249.30" x2="153.80" y2="249.30" stroke="#111" stroke-width="1.3" />
<text x="147.50" y="251.60" font-size="7.4" fill="#333333" text-anchor="end" stroke="#333333" stroke-width="0.12" textLength="9.60" lengthAdjust="spacingAndGlyphs" >0.5</text>
<line x1="150.60" y1="237.60" x2="153.80" y2="237.60" stroke="#111" stroke-width="1.3" />
<text x="147.50" y="239.90" font-size="7.4" fill="#333333" text-anchor="end" stroke="#333333" stroke-width="0.12" textLength="9.60" lengthAdjust="spacingAndGlyphs" >1.0</text>
<line x1="150.60" y1="225.90" x2="153.80" y2="225.90" stroke="#111" stroke-width="1.3" />
<text x="147.50" y="228.20" font-size="7.4" fill="#333333" text-anchor="end" stroke="#333333" stroke-width="0.12" textLength="9.60" lengthAdjust="spacingAndGlyphs" >1.5</text>
<line x1="150.60" y1="214.20" x2="153.80" y2="214.20" stroke="#111" stroke-width="1.3" />
<text x="147.50" y="216.50" font-size="7.4" fill="#333333" text-anchor="end" stroke="#333333" stroke-width="0.12" textLength="9.60" lengthAdjust="spacingAndGlyphs" >2.0</text>
<line x1="150.60" y1="202.50" x2="153.80" y2="202.50" stroke="#111" stroke-width="1.3" />
<text x="147.50" y="204.80" font-size="7.4" fill="#333333" text-anchor="end" stroke="#333333" stroke-width="0.12" textLength="9.60" lengthAdjust="spacingAndGlyphs" >2.5</text>
<line x1="150.60" y1="190.80" x2="153.80" y2="190.80" stroke="#111" stroke-width="1.3" />
<text x="147.50" y="193.10" font-size="7.4" fill="#333333" text-anchor="end" stroke="#333333" stroke-width="0.12" textLength="9.60" lengthAdjust="spacingAndGlyphs" >3.0</text>
<line x1="168.70" y1="261.00" x2="168.70" y2="264.00" stroke="#111" stroke-width="1.2" />
<text x="173.10" y="271.00" font-size="8.8" fill="#333333" text-anchor="end" stroke="#333333" stroke-width="0.1" textLength="30.50" lengthAdjust="spacingAndGlyphs" transform="rotate(-45 173.10 271.00)" >BCL2-WT</text>
<line x1="202.50" y1="261.00" x2="202.50" y2="264.00" stroke="#111" stroke-width="1.2" />
<text x="206.20" y="271.20" font-size="8.8" fill="#333333" text-anchor="end" stroke="#333333" stroke-width="0.1" textLength="31.50" lengthAdjust="spacingAndGlyphs" transform="rotate(-45 206.20 271.20)" >BCL2-mut</text>
<line x1="156.00" y1="188.40" x2="176.60" y2="188.40" stroke="#222" stroke-width="1.1" />
<circle cx="164.05" cy="185.00" r="0.95" fill="#222"/>
<circle cx="166.40" cy="185.00" r="0.95" fill="#222"/>
<circle cx="168.75" cy="185.00" r="0.95" fill="#222"/>
<line x1="180.00" y1="188.40" x2="210.90" y2="188.40" stroke="#222" stroke-width="1.1" />
<circle cx="192.95" cy="185.00" r="0.95" fill="#222"/>
<circle cx="195.30" cy="185.00" r="0.95" fill="#222"/>
<circle cx="197.65" cy="185.00" r="0.95" fill="#222"/>
<rect x="157.00" y="307.10" width="4.50" height="4.50" fill="#4d5366" stroke="#3b4052" stroke-width="0.5"/>
<text x="164.50" y="311.20" font-size="5.8" fill="#333" text-anchor="start" stroke="#333" stroke-width="0.12" textLength="16.50" lengthAdjust="spacingAndGlyphs" >Vector</text>
<rect x="191.50" y="307.10" width="4.50" height="4.50" fill="#c8097a" stroke="#a8005f" stroke-width="0.5"/>
<text x="198.80" y="311.20" font-size="5.8" fill="#333" text-anchor="start" stroke="#333" stroke-width="0.12" textLength="13.70" lengthAdjust="spacingAndGlyphs" >YBX1</text>
<text x="239.90" y="224.60" font-size="9.0" fill="#333333" text-anchor="middle" stroke="#333333" stroke-width="0.08" textLength="57.60" lengthAdjust="spacingAndGlyphs" transform="rotate(-90 239.90 224.60)" >Relative luciferase</text>
<text x="250.80" y="224.50" font-size="9.0" fill="#333333" text-anchor="middle" stroke="#333333" stroke-width="0.08" textLength="56.40" lengthAdjust="spacingAndGlyphs" transform="rotate(-90 250.80 224.50)" >activity(Fluc/Rluc)</text>
<rect x="280.50" y="226.40" width="8.20" height="35.15" fill="#4d5366" stroke="#3b4052" stroke-width="0.7"/>
<line x1="284.60" y1="226.40" x2="284.60" y2="225.70" stroke="#3b4052" stroke-width="1.0" />
<line x1="282.40" y1="225.70" x2="286.80" y2="225.70" stroke="#3b4052" stroke-width="1.0" />
<rect x="291.40" y="198.98" width="8.60" height="62.57" fill="#8b7fbf" stroke="#7467ad" stroke-width="0.7"/>
<line x1="295.70" y1="198.98" x2="295.70" y2="197.93" stroke="#7467ad" stroke-width="1.0" />
<line x1="293.50" y1="197.93" x2="297.90" y2="197.93" stroke="#7467ad" stroke-width="1.0" />
<rect x="321.20" y="226.40" width="8.40" height="35.15" fill="#4d5366" stroke="#3b4052" stroke-width="0.7"/>
<line x1="325.40" y1="226.40" x2="325.40" y2="224.64" stroke="#3b4052" stroke-width="1.0" />
<line x1="323.20" y1="224.64" x2="327.60" y2="224.64" stroke="#3b4052" stroke-width="1.0" />
<rect x="332.40" y="216.91" width="8.20" height="44.64" fill="#8b7fbf" stroke="#7467ad" stroke-width="0.7"/>
<line x1="336.50" y1="216.91" x2="336.50" y2="214.45" stroke="#7467ad" stroke-width="1.0" />
<line x1="334.30" y1="214.45" x2="338.70" y2="214.45" stroke="#7467ad" stroke-width="1.0" />
<line x1="272.00" y1="188.50" x2="272.00" y2="262.35" stroke="#111" stroke-width="1.7" />
<line x1="269.00" y1="261.55" x2="343.80" y2="261.55" stroke="#111" stroke-width="1.6" />
<line x1="268.80" y1="261.55" x2="272.00" y2="261.55" stroke="#111" stroke-width="1.3" />
<text x="265.70" y="263.85" font-size="7.4" fill="#333333" text-anchor="end" stroke="#333333" stroke-width="0.12" textLength="10.20" lengthAdjust="spacingAndGlyphs" >0.0</text>
<line x1="268.80" y1="243.98" x2="272.00" y2="243.98" stroke="#111" stroke-width="1.3" />
<text x="265.70" y="246.28" font-size="7.4" fill="#333333" text-anchor="end" stroke="#333333" stroke-width="0.12" textLength="10.20" lengthAdjust="spacingAndGlyphs" >0.5</text>
<line x1="268.80" y1="226.40" x2="272.00" y2="226.40" stroke="#111" stroke-width="1.3" />
<text x="265.70" y="228.70" font-size="7.4" fill="#333333" text-anchor="end" stroke="#333333" stroke-width="0.12" textLength="10.20" lengthAdjust="spacingAndGlyphs" >1.0</text>
<line x1="268.80" y1="208.83" x2="272.00" y2="208.83" stroke="#111" stroke-width="1.3" />
<text x="265.70" y="211.13" font-size="7.4" fill="#333333" text-anchor="end" stroke="#333333" stroke-width="0.12" textLength="10.20" lengthAdjust="spacingAndGlyphs" >1.5</text>
<line x1="268.80" y1="191.25" x2="272.00" y2="191.25" stroke="#111" stroke-width="1.3" />
<text x="265.70" y="193.55" font-size="7.4" fill="#333333" text-anchor="end" stroke="#333333" stroke-width="0.12" textLength="10.20" lengthAdjust="spacingAndGlyphs" >2.0</text>
<line x1="289.60" y1="261.55" x2="289.60" y2="264.55" stroke="#111" stroke-width="1.2" />
<text x="294.40" y="272.20" font-size="8.8" fill="#333333" text-anchor="end" stroke="#333333" stroke-width="0.1" textLength="29.50" lengthAdjust="spacingAndGlyphs" transform="rotate(-45 294.40 272.20)" >shcontrol</text>
<line x1="330.50" y1="261.55" x2="330.50" y2="264.55" stroke="#111" stroke-width="1.2" />
<text x="334.20" y="272.20" font-size="8.8" fill="#333333" text-anchor="end" stroke="#333333" stroke-width="0.1" textLength="33.50" lengthAdjust="spacingAndGlyphs" transform="rotate(-45 334.20 272.20)" >shIGF2BP1</text>
<line x1="275.40" y1="192.40" x2="296.60" y2="192.40" stroke="#222" stroke-width="1.1" />
<line x1="275.40" y1="191.85" x2="275.40" y2="194.80" stroke="#222" stroke-width="1.1" />
<line x1="296.60" y1="191.85" x2="296.60" y2="194.80" stroke="#222" stroke-width="1.1" />
<circle cx="283.82" cy="188.80" r="0.95" fill="#222"/>
<circle cx="286.18" cy="188.80" r="0.95" fill="#222"/>
<line x1="299.30" y1="192.40" x2="338.40" y2="192.40" stroke="#222" stroke-width="1.1" />
<line x1="299.30" y1="191.85" x2="299.30" y2="194.80" stroke="#222" stroke-width="1.1" />
<line x1="338.40" y1="191.85" x2="338.40" y2="194.80" stroke="#222" stroke-width="1.1" />
<circle cx="316.25" cy="188.80" r="0.95" fill="#222"/>
<circle cx="318.60" cy="188.80" r="0.95" fill="#222"/>
<circle cx="320.95" cy="188.80" r="0.95" fill="#222"/>
<rect x="280.20" y="307.10" width="4.50" height="4.50" fill="#4d5366" stroke="#3b4052" stroke-width="0.5"/>
<text x="288.00" y="311.20" font-size="5.8" fill="#333" text-anchor="start" stroke="#333" stroke-width="0.12" textLength="16.00" lengthAdjust="spacingAndGlyphs" >Vector</text>
<rect x="314.70" y="307.10" width="4.50" height="4.50" fill="#8b7fbf" stroke="#7467ad" stroke-width="0.5"/>
<text x="322.40" y="311.20" font-size="5.8" fill="#333" text-anchor="start" stroke="#333" stroke-width="0.12" textLength="14.60" lengthAdjust="spacingAndGlyphs" >YBX1</text>
<text x="308.00" y="178.80" font-size="8.8" fill="#111" text-anchor="middle" stroke="#111" stroke-width="0.12" textLength="42.00" lengthAdjust="spacingAndGlyphs" >MYC-CRD</text>
<text x="367.70" y="223.80" font-size="9.0" fill="#333333" text-anchor="middle" stroke="#333333" stroke-width="0.08" textLength="57.60" lengthAdjust="spacingAndGlyphs" transform="rotate(-90 367.70 223.80)" >Relative luciferase</text>
<text x="378.40" y="223.70" font-size="9.0" fill="#333333" text-anchor="middle" stroke="#333333" stroke-width="0.08" textLength="56.40" lengthAdjust="spacingAndGlyphs" transform="rotate(-90 378.40 223.70)" >activity(Fluc/Rluc)</text>
<rect x="401.40" y="243.60" width="7.90" height="17.95" fill="#4d5366" stroke="#3b4052" stroke-width="0.7"/>
<line x1="405.35" y1="243.60" x2="405.35" y2="243.24" stroke="#3b4052" stroke-width="1.0" />
<line x1="403.15" y1="243.24" x2="407.55" y2="243.24" stroke="#3b4052" stroke-width="1.0" />
<rect x="412.30" y="196.93" width="8.50" height="64.62" fill="#e8bb22" stroke="#d9a50e" stroke-width="0.7"/>
<line x1="416.55" y1="196.93" x2="416.55" y2="194.78" stroke="#d9a50e" stroke-width="1.0" />
<line x1="414.35" y1="194.78" x2="418.75" y2="194.78" stroke="#d9a50e" stroke-width="1.0" />
<rect x="438.60" y="243.60" width="8.30" height="17.95" fill="#4d5366" stroke="#3b4052" stroke-width="0.7"/>
<line x1="442.75" y1="243.60" x2="442.75" y2="241.45" stroke="#3b4052" stroke-width="1.0" />
<line x1="440.55" y1="241.45" x2="444.95" y2="241.45" stroke="#3b4052" stroke-width="1.0" />
<rect x="449.90" y="225.65" width="8.00" height="35.90" fill="#e8bb22" stroke="#d9a50e" stroke-width="0.7"/>
<line x1="453.90" y1="225.65" x2="453.90" y2="218.83" stroke="#d9a50e" stroke-width="1.0" />
<line x1="451.70" y1="218.83" x2="456.10" y2="218.83" stroke="#d9a50e" stroke-width="1.0" />
<line x1="394.10" y1="186.50" x2="394.10" y2="262.35" stroke="#111" stroke-width="1.7" />
<line x1="391.50" y1="261.55" x2="460.70" y2="261.55" stroke="#111" stroke-width="1.6" />
<line x1="390.90" y1="261.55" x2="394.10" y2="261.55" stroke="#111" stroke-width="1.3" />
<text x="387.80" y="263.85" font-size="7.4" fill="#333333" text-anchor="end" stroke="#333333" stroke-width="0.12" >0</text>
<line x1="390.90" y1="243.60" x2="394.10" y2="243.60" stroke="#111" stroke-width="1.3" />
<text x="387.80" y="245.90" font-size="7.4" fill="#333333" text-anchor="end" stroke="#333333" stroke-width="0.12" >1</text>
<line x1="390.90" y1="225.65" x2="394.10" y2="225.65" stroke="#111" stroke-width="1.3" />
<text x="387.80" y="227.95" font-size="7.4" fill="#333333" text-anchor="end" stroke="#333333" stroke-width="0.12" >2</text>
<line x1="390.90" y1="207.70" x2="394.10" y2="207.70" stroke="#111" stroke-width="1.3" />
<text x="387.80" y="210.00" font-size="7.4" fill="#333333" text-anchor="end" stroke="#333333" stroke-width="0.12" >3</text>
<line x1="390.90" y1="189.75" x2="394.10" y2="189.75" stroke="#111" stroke-width="1.3" />
<text x="387.80" y="192.05" font-size="7.4" fill="#333333" text-anchor="end" stroke="#333333" stroke-width="0.12" >4</text>
<line x1="411.00" y1="261.55" x2="411.00" y2="264.55" stroke="#111" stroke-width="1.2" />
<text x="414.00" y="272.20" font-size="8.8" fill="#333333" text-anchor="end" stroke="#333333" stroke-width="0.1" textLength="29.50" lengthAdjust="spacingAndGlyphs" transform="rotate(-45 414.00 272.20)" >shcontrol</text>
<line x1="448.00" y1="261.55" x2="448.00" y2="264.55" stroke="#111" stroke-width="1.2" />
<text x="450.60" y="272.20" font-size="8.8" fill="#333333" text-anchor="end" stroke="#333333" stroke-width="0.1" textLength="22.50" lengthAdjust="spacingAndGlyphs" transform="rotate(-45 450.60 272.20)" >shYBX1</text>
<line x1="398.70" y1="189.40" x2="416.20" y2="189.40" stroke="#222" stroke-width="1.1" />
<line x1="398.70" y1="188.85" x2="398.70" y2="191.80" stroke="#222" stroke-width="1.1" />
<line x1="416.20" y1="188.85" x2="416.20" y2="191.80" stroke="#222" stroke-width="1.1" />
<circle cx="405.45" cy="186.00" r="0.95" fill="#222"/>
<circle cx="407.80" cy="186.00" r="0.95" fill="#222"/>
<circle cx="410.15" cy="186.00" r="0.95" fill="#222"/>
<line x1="421.30" y1="188.70" x2="456.60" y2="188.70" stroke="#222" stroke-width="1.1" />
<line x1="421.30" y1="188.15" x2="421.30" y2="191.10" stroke="#222" stroke-width="1.1" />
<line x1="456.60" y1="188.15" x2="456.60" y2="191.10" stroke="#222" stroke-width="1.1" />
<circle cx="436.55" cy="185.40" r="0.95" fill="#222"/>
<circle cx="438.90" cy="185.40" r="0.95" fill="#222"/>
<circle cx="441.25" cy="185.40" r="0.95" fill="#222"/>
<rect x="399.90" y="307.10" width="4.50" height="4.50" fill="#4d5366" stroke="#3b4052" stroke-width="0.5"/>
<text x="407.60" y="311.20" font-size="5.8" fill="#333" text-anchor="start" stroke="#333" stroke-width="0.12" textLength="16.90" lengthAdjust="spacingAndGlyphs" >Vector</text>
<rect x="435.40" y="307.10" width="4.50" height="4.50" fill="#e8bb22" stroke="#d9a50e" stroke-width="0.5"/>
<text x="442.80" y="311.20" font-size="5.8" fill="#333" text-anchor="start" stroke="#333" stroke-width="0.12" textLength="20.60" lengthAdjust="spacingAndGlyphs" >IGF2BP1</text>
<text x="428.00" y="178.80" font-size="8.8" fill="#111" text-anchor="middle" stroke="#111" stroke-width="0.12" textLength="42.00" lengthAdjust="spacingAndGlyphs" >MYC-CRD</text>
<rect x="0.75" y="0.75" width="518.5" height="318.5" fill="none" stroke="#000" stroke-width="1.5"/>
</svg>
</body></html>
